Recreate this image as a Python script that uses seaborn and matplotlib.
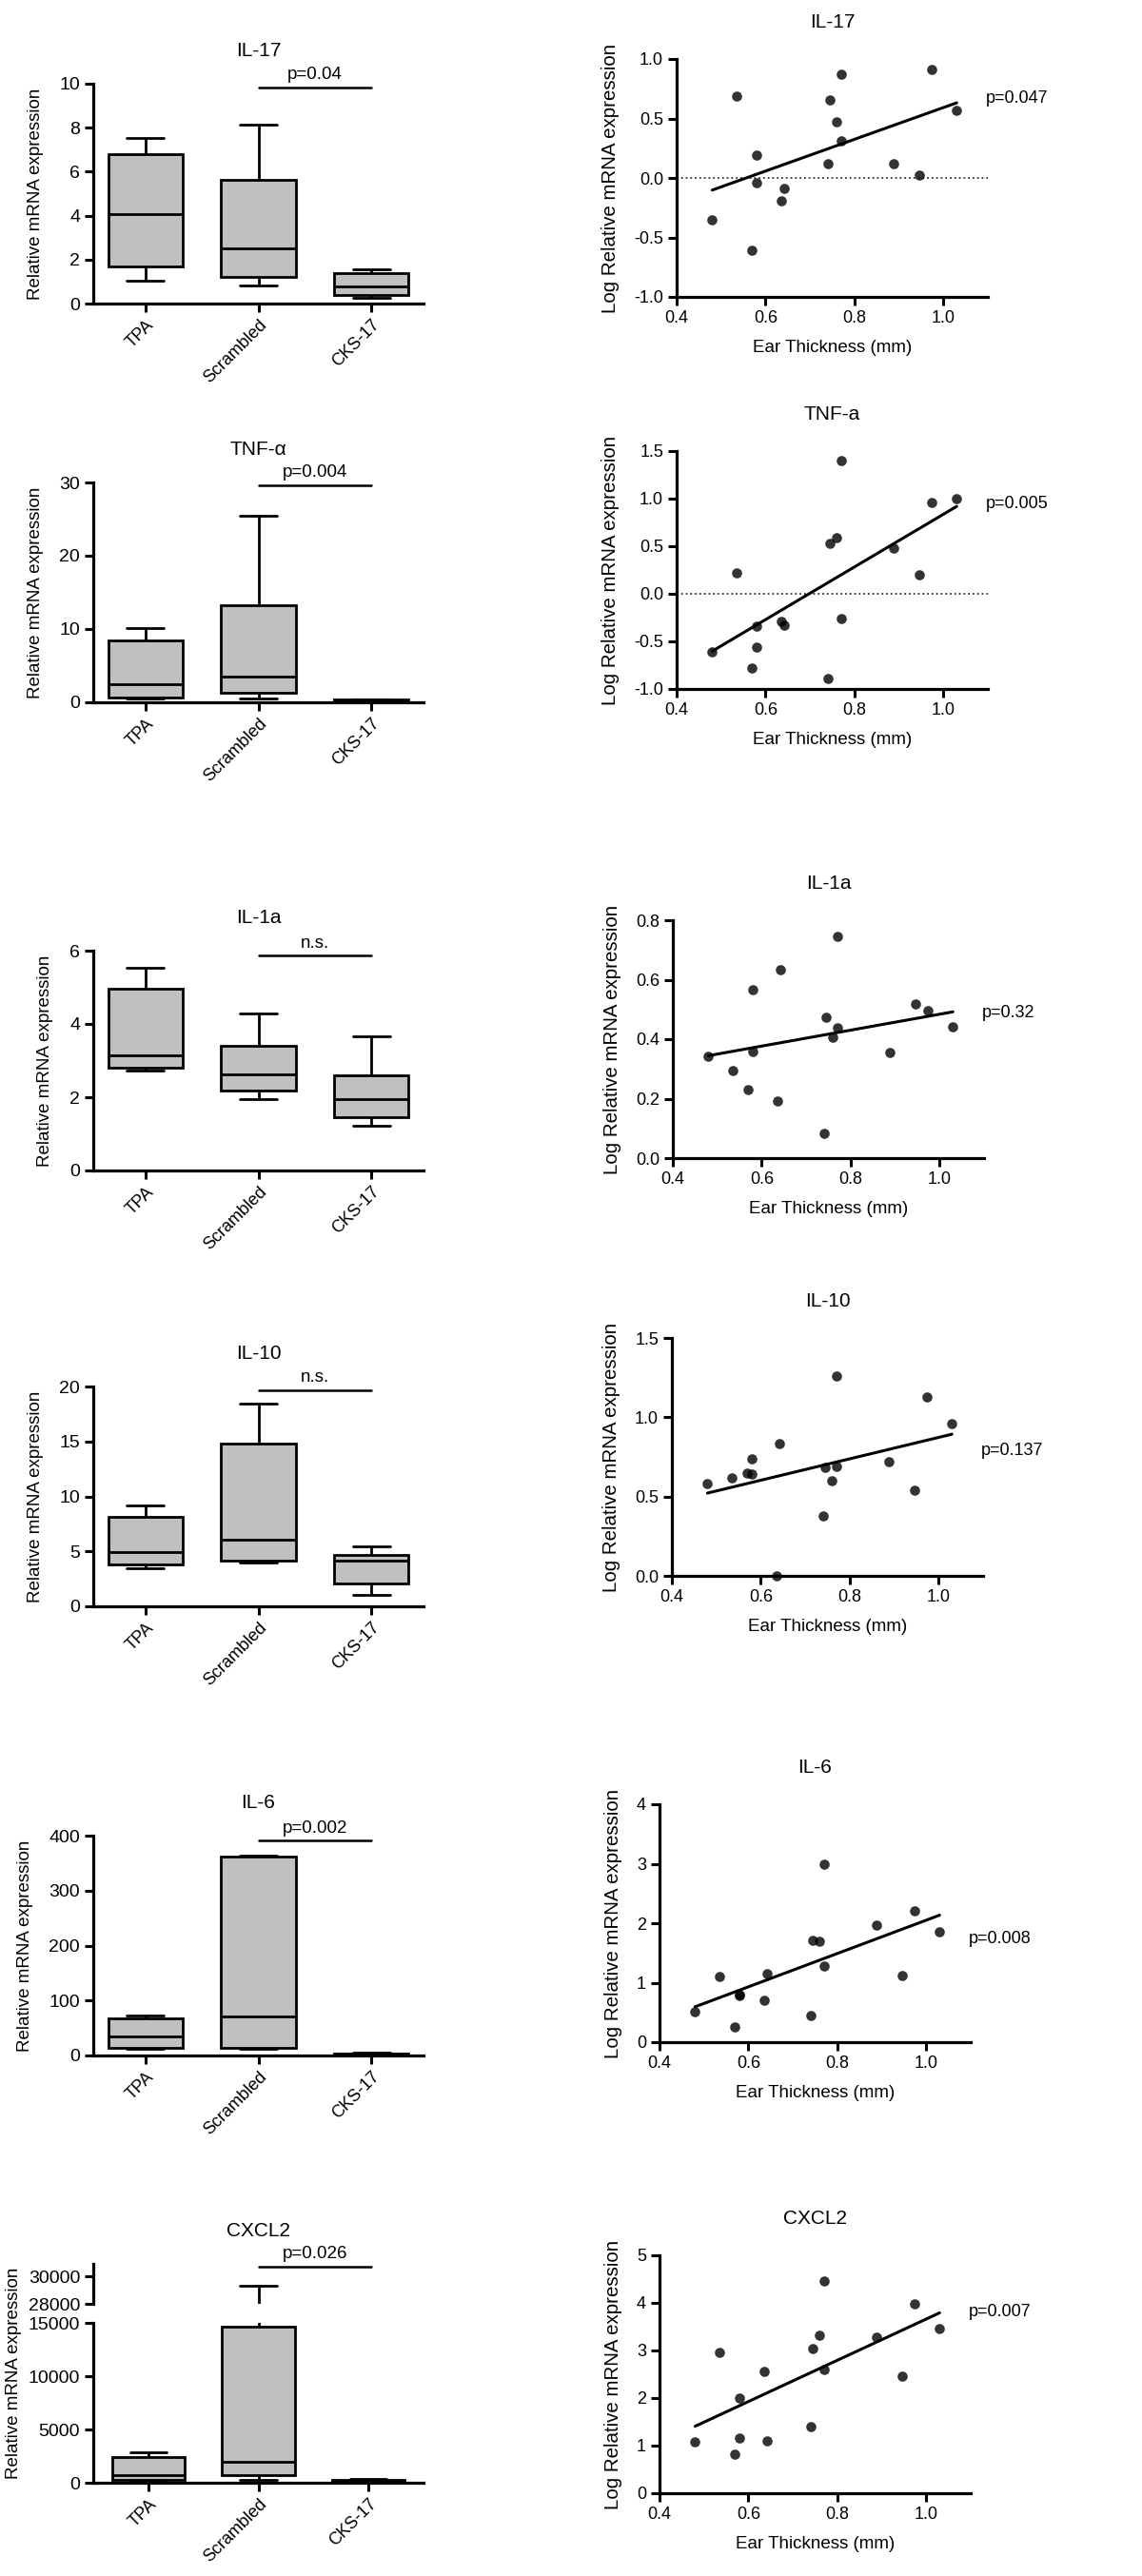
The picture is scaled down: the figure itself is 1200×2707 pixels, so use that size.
import matplotlib
matplotlib.use('Agg')
import matplotlib.pyplot as plt
import seaborn as sb
import numpy as np
import pandas as pd
from matplotlib.ticker import FormatStrFormatter

groups = ['TPA', 'Scrambled', 'CKS-17']

# five-number summaries: min, q1, median, q3, max
il17_box = [[1.05, 1.70, 4.05, 6.78, 7.55],
            [0.84, 1.20, 2.50, 5.64, 8.12],
            [0.26, 0.40, 0.79, 1.39, 1.54]]
tnf_box = [[0.48, 0.70, 2.43, 8.40, 10.1],
           [0.48, 1.35, 3.50, 13.2, 25.4],
           [0.05, 0.10, 0.20, 0.35, 0.45]]
il1a_box = [[2.74, 2.80, 3.13, 4.96, 5.53],
            [1.96, 2.18, 2.63, 3.41, 4.29],
            [1.21, 1.46, 1.94, 2.61, 3.65]]
il10_box = [[3.49, 3.84, 4.94, 8.11, 9.18],
            [3.98, 4.13, 6.09, 14.8, 18.47],
            [1.01, 2.11, 4.13, 4.70, 5.48]]
il6_box = [[12.1, 14.4, 34.0, 66.8, 72.5],
           [11.5, 13.2, 70.2, 362.6, 364.0],
           [1.0, 2.0, 3.0, 4.0, 6.0]]
cxcl2_box = [[178, 296, 741, 2400, 2845],
             [300, 682, 1956, 14613, 29340],
             [50, 100, 180, 250, 380]]

box_titles = ['IL-17', 'TNF-\u03b1', 'IL-1a', 'IL-10', 'IL-6', 'CXCL2']
box_sig = ['p=0.04', 'p=0.004', 'n.s.', 'n.s.', 'p=0.002', 'p=0.026']
box_sig_y = [9.83, 29.6, 5.86, 19.65, 391, 30706]
box_ylim = [10, 30, 6, 20, 400]
box_ystep = [2, 10, 2, 5, 100]

# scatter panels: same mice in every panel
ear_thickness = [0.480, 0.535, 0.570, 0.580, 0.580, 0.635, 0.641, 0.740,
                 0.745, 0.760, 0.770, 0.770, 0.889, 0.945, 0.974, 1.030]
il17_log = [-0.35, 0.685, -0.61, 0.19, -0.04, -0.19, -0.085, 0.12,
            0.655, 0.47, 0.875, 0.315, 0.12, 0.025, 0.91, 0.565]
tnf_log = [-0.61, 0.22, -0.78, -0.34, -0.56, -0.29, -0.33, -0.89,
           0.535, 0.59, 1.40, -0.26, 0.48, 0.20, 0.955, 1.0]
il1a_log = [0.343, 0.295, 0.230, 0.357, 0.566, 0.191, 0.635, 0.083,
            0.473, 0.405, 0.746, 0.437, 0.356, 0.519, 0.496, 0.442]
il10_log = [0.58, 0.62, 0.648, 0.736, 0.64, 0.0, 0.836, 0.379,
            0.682, 0.598, 1.263, 0.692, 0.722, 0.54, 1.131, 0.959]
il6_log = [0.507, 1.109, 0.261, 0.789, 0.80, 0.709, 1.157, 0.448,
           1.707, 1.691, 2.987, 1.275, 1.973, 1.125, 2.213, 1.861]
cxcl2_log = [1.08, 2.967, 0.827, 2.0, 1.167, 2.553, 1.093, 1.393,
             3.04, 3.327, 4.46, 2.607, 3.287, 2.453, 3.98, 3.453]

scatter_titles = ['IL-17', 'TNF-a', 'IL-1a', 'IL-10', 'IL-6', 'CXCL2']
scatter_p = ['p=0.047', 'p=0.005', 'p=0.32', 'p=0.137', 'p=0.008', 'p=0.007']
scatter_p_y = [0.672, 0.943, 0.487, 0.788, 1.733, 3.82]
scatter_ylim = [(-1, 1), (-1, 1.5), (0, 0.8), (0, 1.5), (0, 4), (0, 5)]
scatter_ystep = [0.5, 0.5, 0.2, 0.5, 1, 1]
scatter_yfmt = ['%.1f', '%.1f', '%.1f', '%.1f', '%d', '%d']

sb.set_style('ticks')
plt.rcParams['font.family'] = ['Liberation Sans', 'DejaVu Sans']
plt.rcParams['axes.unicode_minus'] = False
for k in ['text.color', 'axes.labelcolor', 'xtick.color', 'ytick.color', 'axes.edgecolor']:
    plt.rcParams[k] = 'black'
plt.rcParams['axes.linewidth'] = 2.3
plt.rcParams['xtick.major.size'] = 6.5
plt.rcParams['ytick.major.size'] = 6.5
plt.rcParams['xtick.major.width'] = 2.2
plt.rcParams['ytick.major.width'] = 2.2

W, H = 1200, 2707
fig = plt.figure(figsize=(W / 100, H / 100), dpi=100)


def place(left, top, width, height):
    return fig.add_axes([left / W, 1 - (top + height) / H, width / W, height / H])


def draw_box(ax, summary):
    df = pd.DataFrame({'group': np.repeat(groups, 5),
                       'value': np.concatenate(summary)})
    sb.boxplot(data=df, x='group', y='value', order=groups, color='#c0c0c0',
               linecolor='black', linewidth=2, width=0.66, whis=(0, 100),
               fliersize=0, ax=ax)
    ax.set_xlabel('')
    ax.set_ylabel('')
    ax.tick_params(axis='y', labelsize=14)
    ax.tick_params(axis='x', labelsize=13)


def sig_bar(ax, y, text):
    ax.plot([1, 2], [y, y], color='black', lw=1.8, clip_on=False)
    ax.annotate(text, (1.5, y), xytext=(0, 9.5), textcoords='offset points',
                ha='center', va='center', fontsize=13.5)


def rotate_labels(ax):
    for lab in ax.get_xticklabels():
        lab.set_rotation(45)
        lab.set_ha('right')
        lab.set_rotation_mode('anchor')


box_data = [il17_box, tnf_box, il1a_box, il10_box, il6_box]
box_tops = [88, 507, 999, 1457, 1929]
for i, summary in enumerate(box_data):
    ax = place(98, box_tops[i], 347, 231)
    draw_box(ax, summary)
    ax.set_ylim(0, box_ylim[i])
    ax.set_yticks(np.arange(0, box_ylim[i] + 0.1, box_ystep[i]))
    ax.set_ylabel('Relative mRNA expression', fontsize=13.5, labelpad=12)
    ax.set_title(box_titles[i], fontsize=15, pad=21)
    sig_bar(ax, box_sig_y[i], box_sig[i])
    rotate_labels(ax)
    sb.despine(ax=ax)

# CXCL2 with a broken y axis
upper = place(98, 2379, 347, 42)
lower = place(98, 2441, 347, 168)
draw_box(upper, cxcl2_box)
draw_box(lower, cxcl2_box)
upper.set_ylim(28000, 30918)
upper.set_yticks([28000, 30000])
upper.tick_params(axis='x', bottom=False, labelbottom=False)
sb.despine(ax=upper, bottom=True)
upper.set_title(box_titles[5], fontsize=15, pad=21)
sig_bar(upper, box_sig_y[5], box_sig[5])
lower.set_ylim(0, 15000)
lower.set_yticks([0, 5000, 10000, 15000])
lower.set_ylabel('Relative mRNA expression', fontsize=13.5, labelpad=5)
lower.yaxis.label.set_y(0.685)
rotate_labels(lower)
sb.despine(ax=lower)

# regression panels
scatter_data = [il17_log, tnf_log, il1a_log, il10_log, il6_log, cxcl2_log]
scatter_lefts = [711, 711, 707, 706, 693, 693]
scatter_tops = [62, 474, 967, 1406, 1896, 2370]
for i, vals in enumerate(scatter_data):
    ax = place(scatter_lefts[i], scatter_tops[i], 327, 250)
    lo, hi = scatter_ylim[i]
    if lo < 0:
        ax.axhline(0, ls=':', color='0.2', lw=1.3, zorder=0)
    sb.regplot(x=ear_thickness, y=vals, ci=None, color='black', ax=ax,
               scatter_kws={'s': 58, 'clip_on': False, 'linewidths': 0},
               line_kws={'lw': 2.2})
    ax.set_xlim(0.4, 1.1)
    ax.set_ylim(lo, hi)
    ax.set_xticks([0.4, 0.6, 0.8, 1.0])
    ax.set_yticks(np.arange(lo, hi + 0.01, scatter_ystep[i]))
    ax.xaxis.set_major_formatter(FormatStrFormatter('%.1f'))
    ax.yaxis.set_major_formatter(FormatStrFormatter(scatter_yfmt[i]))
    ax.tick_params(labelsize=13)
    ax.set_xlabel('Ear Thickness (mm)', fontsize=13.5, labelpad=10)
    ax.set_ylabel('Log Relative mRNA expression', fontsize=14.8, labelpad=11)
    ax.set_title(scatter_titles[i], fontsize=15, pad=24)
    ax.text(1.095, scatter_p_y[i], scatter_p[i], fontsize=13,
            ha='left', va='center', clip_on=False)
    sb.despine(ax=ax)

plt.savefig('out.png', dpi=100)
